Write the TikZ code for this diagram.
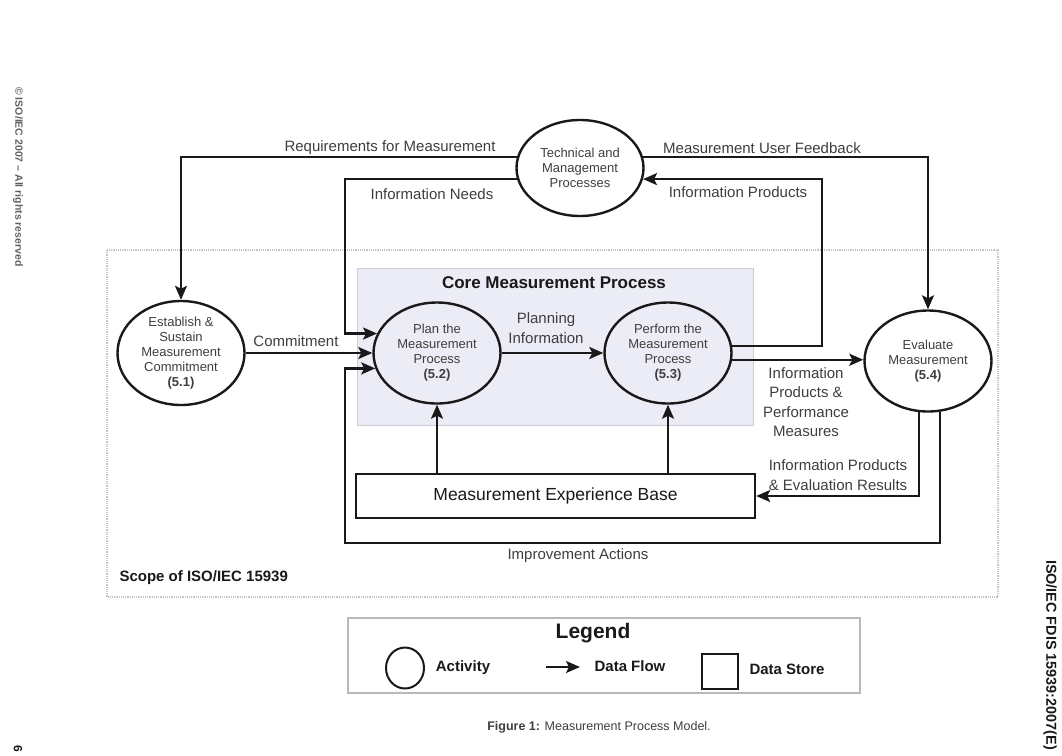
\documentclass[tikz,border=0pt]{standalone}
\usepackage{fontspec}
\setmainfont{Liberation Sans}
\usepackage{tikz}
\usetikzlibrary{positioning,shapes.geometric,arrows.meta}
\definecolor{mpLine}{RGB}{25, 25, 25}
\definecolor{mpText}{RGB}{62, 62, 62}
\definecolor{mpCore}{RGB}{236, 236, 246}
\definecolor{mpCoreEdge}{RGB}{205, 205, 214}
\definecolor{mpScope}{RGB}{195, 195, 195}

\tikzset{
  activity/.style={ellipse, draw=mpLine, line width=2.4pt, inner sep=0pt,
    minimum width=127pt, minimum height=101pt, align=center, text=mpText,
    font=\fontsize{13}{15}\selectfont},
  flow/.style={draw=mpLine, line width=2.4pt,
    -{Stealth[length=14pt,width=12pt,inset=3pt]}},
  flowlabel/.style={text=mpText, align=center, font=\fontsize{15}{19.5}\selectfont},
  store/.style={rectangle, draw=mpLine, line width=2.4pt, inner sep=0pt},
  legendtext/.style={text=mpLine, font=\fontsize{15}{18}\selectfont\bfseries},
}

\begin{document}
\begin{tikzpicture}[x=1pt, y=-1pt]
        \useasboundingbox (0,0) rectangle (1062,755);
        % Scope of the standard (dotted frame)
        \draw[mpScope, densely dotted, line width=1.2pt] (107,250) rectangle (998,597);
        \node[anchor=west, text=mpLine, font=\fontsize{15}{18}\selectfont\bfseries] (scope) at (116,578) {Scope of ISO/IEC 15939};
        % Core measurement process (shaded box)
        \filldraw[fill=mpCore, draw=mpCoreEdge, line width=1pt] (357,268) rectangle (753,425);
        \node[text=mpLine, font=\fontsize{17}{20}\selectfont\bfseries] (core) at (554,283) {Core Measurement Process};
        % Activities
        \node[activity, minimum height=96pt] (tech) at (580,168) {Technical and\\Management\\Processes};
        \node[activity, minimum height=104pt] (est) at (181,353) {Establish \&\\Sustain\\Measurement\\Commitment\\\textbf{(5.1)}};
        \node[activity] (plan) at (437,353) {Plan the\\Measurement\\Process\\\textbf{(5.2)}};
        \node[activity] (perf) at (668,353) {Perform the\\Measurement\\Process\\\textbf{(5.3)}};
        \node[activity] (eval) at (928,361) {Evaluate\\Measurement\\\textbf{(5.4)}};
        % Data store
        \node[store, minimum width=399pt, minimum height=44pt, text=mpLine, font=\fontsize{17.5}{20}\selectfont] (meb) at (555.5,496) {Measurement Experience Base};
        % Bend points of the long connectors
        \coordinate (needs) at (345,0);
        \coordinate (prods) at (822,0);
        \coordinate (impr) at (345,543);
        % Data flows
        \draw[flow] (tech.170) -| (est.north);
        \draw[flow] (tech.10) -| (eval.north);
        \draw[flow] (tech.190) -| (needs |- plan.162) -- (plan.162);
        \draw[flow] (perf.6) -| (prods |- tech.-10) -- (tech.-10);
        \draw[flow] (est.east) -- (plan.west);
        \draw[flow] (plan.east) -- (perf.west);
        \draw[flow] (perf.-6) -- (perf.-6 -| eval.west);
        \draw[flow] (meb.north -| plan.south) -- (plan.south);
        \draw[flow] (meb.north -| perf.south) -- (perf.south);
        \draw[flow] (eval.-100) |- (meb.east);
        \draw[flow] (eval.-77) |- (impr) |- (plan.194);
        % Flow labels
        \node[flowlabel] (lreq) at (390,148) {Requirements for Measurement};
        \node[flowlabel] (lfeed) at (762,148) {Measurement User Feedback};
        \node[flowlabel] (lneeds) at (432,194) {Information Needs};
        \node[flowlabel] (lprods) at (738,192) {Information Products};
        \node[flowlabel] (lcommit) at (296,341) {Commitment};
        \node[flowlabel] (lplan) at (546,328) {Planning\\Information};
        \node[flowlabel] (lperf) at (806,402) {Information\\Products \&\\Performance\\Measures};
        \node[flowlabel] (leval) at (838,475) {Information Products\\\& Evaluation Results};
        \node[flowlabel] (limpr) at (578,556) {Improvement Actions};
        % Legend
        \draw[gray!55, line width=1.2pt] (348,618) rectangle (860,693);
        \node[text=mpLine, font=\fontsize{21}{24}\selectfont\bfseries] (legend) at (593,633) {Legend};
        \node[ellipse, draw=mpLine, line width=2pt, minimum width=38pt, minimum height=41pt] (legact) at (405,668) {};
        \node[legendtext] (lact) at (463,668) {Activity};
        \coordinate (legflowa) at (546,667);
        \coordinate (legflowb) at (580,667);
        \draw[flow, line width=2pt] (legflowa) -- (legflowb);
        \node[legendtext] (lflow) at (630,666) {Data Flow};
        \node[store, line width=2pt, minimum width=36pt, minimum height=35pt] (legstore) at (720,671) {};
        \node[legendtext] (lstore) at (787,669) {Data Store};
        % Caption and page margins
        \node[text=mpText, font=\fontsize{12.5}{15}\selectfont] (caption) at (599,727) {\textbf{Figure 1:} Measurement Process Model.};
        \node[rotate=-90, text=gray!75!black, font=\fontsize{10.5}{12}\selectfont\bfseries] (copyr) at (18,177) {\textcopyright\ ISO/IEC 2007 -- All rights reserved};
        \node[rotate=-90, text=mpLine, font=\fontsize{14.4}{16}\selectfont\bfseries] (docid) at (1050,655) {ISO/IEC FDIS 15939:2007(E)};
        \node[rotate=-90, text=mpLine, font=\fontsize{12}{14}\selectfont\bfseries] (pageno) at (18,749) {6};
    \end{tikzpicture}
\end{document}
